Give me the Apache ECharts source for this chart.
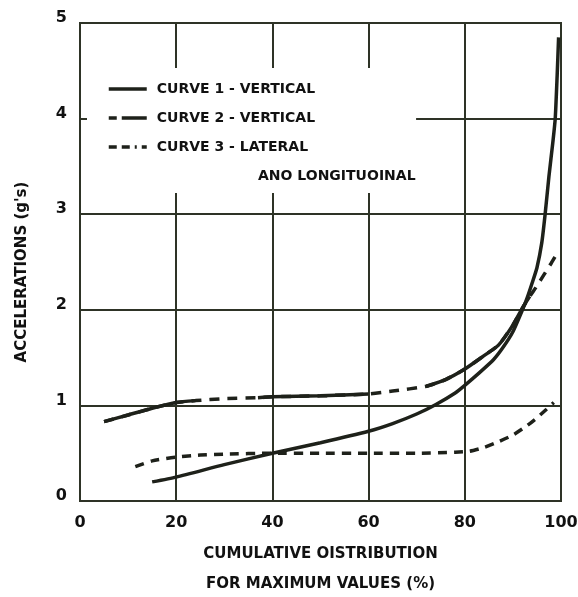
<!DOCTYPE html>
<html>
<head>
<meta charset="utf-8">
<title>Accelerations</title>
<script src="https://cdn.jsdelivr.net/npm/echarts@6/dist/echarts.min.js"></script>
<style>html,body{margin:0;background:#fff}#main{width:578px;height:597px}</style>
</head>
<body>
<div id="main"></div>
<script>
var xTicks = [0, 20, 40, 60, 80, 100];
var yTicks = [0, 1, 2, 3, 4, 5];
var names = ['CURVE 1 - VERTICAL', 'CURVE 2 - VERTICAL', 'CURVE 3 - LATERAL'];
var legendExtra = 'ANO LONGITUOINAL';

// curve 1, solid
var curve1 = [[15,0.2],[20,0.25],[30,0.38],[40,0.5],[50,0.61],[60,0.73],[65,0.81],[70,0.91],[74,1.01],[78,1.13],[80,1.21],[83,1.34],[86,1.48],[88,1.61],[90,1.77],[92,2.0],[93,2.13],[94,2.28],[95,2.44],[96,2.7],[96.7,3.0],[97.5,3.4],[98.3,3.75],[98.8,4.0],[99.2,4.45],[99.5,4.85]];
// curve 2, long dash (solid stretches + short dashes)
var curve2 = [[5,0.83],[10,0.9],[15,0.97],[20,1.03],[24,1.05],[30,1.07],[37,1.08],[40,1.09],[50,1.1],[60,1.12],[65,1.15],[72,1.2],[76,1.27],[80,1.38],[84,1.52],[87,1.63],[90,1.84],[92,2.02],[93.5,2.14],[95,2.25],[96.5,2.37],[98,2.49],[99.5,2.62]];
var curve2Solid = [[5,24],[37,60],[72,93.5]];
// curve 3, short dash
var curve3 = [[11.5,0.36],[15,0.42],[20,0.46],[25,0.48],[30,0.49],[40,0.5],[50,0.5],[60,0.5],[70,0.5],[78,0.51],[81,0.52],[84,0.56],[87,0.62],[90,0.69],[93,0.79],[95,0.87],[97,0.96],[98.5,1.03]];

var ink = '#1e211a';
var gridInk = '#2e3326';
var font = 'DejaVu Sans';

var series = [
  {name: names[0], type: 'line', data: curve1, smooth: 0.2, symbol: 'none',
   itemStyle: {color: ink}, lineStyle: {color: ink, width: 3.5}},
  {name: names[1], type: 'line', data: curve2, smooth: 0.2, symbol: 'none',
   itemStyle: {color: ink}, lineStyle: {color: ink, width: 3.5, type: [10, 8]}},
  {name: names[2], type: 'line', data: curve3, smooth: 0.2, symbol: 'none',
   itemStyle: {color: ink}, lineStyle: {color: ink, width: 3.5, type: [9, 7]}}
];
curve2Solid.forEach(function (r, i) {
  series.push({
    name: 'c2solid' + i, type: 'line', smooth: 0.2, symbol: 'none',
    data: curve2.filter(function (p) { return p[0] >= r[0] && p[0] <= r[1]; }),
    itemStyle: {color: ink}, lineStyle: {color: ink, width: 3.5}
  });
});

var chart = echarts.init(document.getElementById('main'));
chart.setOption({
  animation: false,
  backgroundColor: '#fff',
  grid: {left: 80, right: 17, top: 23, bottom: 96, show: true,
         outerBoundsMode: 'none', containLabel: false,
         borderColor: gridInk, borderWidth: 2},
  xAxis: {
    type: 'value', min: xTicks[0], max: xTicks[xTicks.length - 1], interval: 20,
    name: 'CUMULATIVE OISTRIBUTION\nFOR MAXIMUM VALUES (%)',
    nameLocation: 'middle', nameGap: 38,
    nameTextStyle: {fontFamily: font, fontWeight: 'bold', fontSize: 15, color: '#111', lineHeight: 30},
    axisLine: {show: false}, axisTick: {show: false},
    axisLabel: {margin: 14, fontFamily: font, fontWeight: 'bold', fontSize: 16, color: '#111'},
    splitLine: {lineStyle: {color: gridInk, width: 2}}
  },
  yAxis: {
    type: 'value', min: yTicks[0], max: yTicks[yTicks.length - 1], interval: 1,
    name: "ACCELERATIONS (g's)",
    nameLocation: 'middle', nameGap: 50,
    nameTextStyle: {fontFamily: font, fontWeight: 'bold', fontSize: 15, color: '#111',
                    padding: [0, 20, 0, 0]},
    axisLine: {show: false}, axisTick: {show: false},
    axisLabel: {margin: 13, fontFamily: font, fontWeight: 'bold', fontSize: 16, color: '#111',
                verticalAlign: 'bottom', lineHeight: 10},
    splitLine: {lineStyle: {color: gridInk, width: 2}}
  },
  legend: {
    orient: 'vertical', left: 87, top: 68,
    backgroundColor: '#fff',
    padding: [14, 101, 39, 20],
    itemWidth: 38, itemHeight: 14, itemGap: 15,
    selectedMode: false,
    itemStyle: {opacity: 0},
    textStyle: {fontFamily: font, fontWeight: 'bold', fontSize: 14, color: '#111',
                lineHeight: 14, padding: [0, 0, 0, 5]},
    data: [
      {name: names[0], lineStyle: {color: ink, width: 3.5, type: 'solid'}},
      {name: names[1], lineStyle: {color: ink, width: 3.5, type: [8, 5, 25, 5]}},
      {name: names[2], lineStyle: {color: ink, width: 3.5, type: [8, 5, 8, 5, 2, 5]}}
    ]
  },
  graphic: [{
    type: 'text', left: 258, top: 169, z: 100,
    style: {text: legendExtra, font: 'bold 14px ' + font, fill: '#111'}
  }],
  series: series
});
</script>
</body>
</html>
